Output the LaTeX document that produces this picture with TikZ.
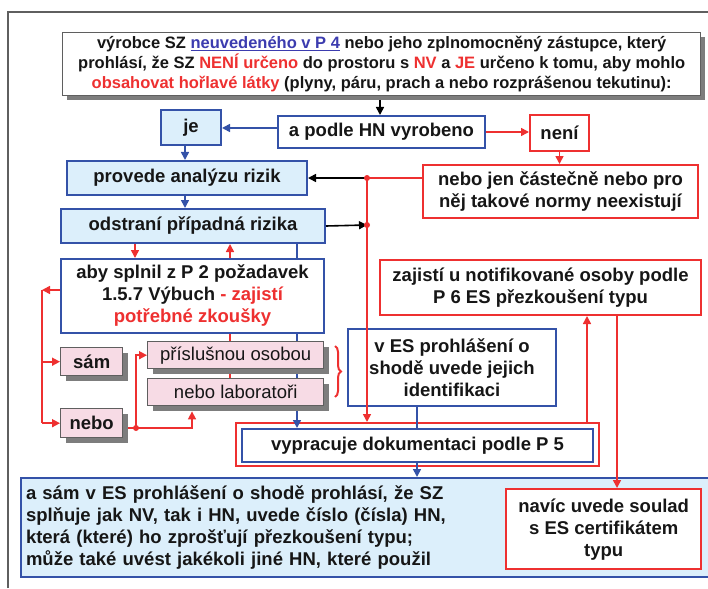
\documentclass[tikz,border=0pt]{standalone}
\usepackage{fontspec}
\setmainfont{Liberation Sans}
\usetikzlibrary{arrows.meta,decorations.pathreplacing,backgrounds}
\definecolor{bl}{RGB}{52,82,168}
\definecolor{lb}{RGB}{220,239,251}
\definecolor{rd}{RGB}{238,48,48}
\definecolor{pk}{RGB}{247,219,229}
\definecolor{gr}{RGB}{95,95,95}
\definecolor{sh}{RGB}{125,125,125}
\definecolor{ul}{RGB}{60,60,175}
\definecolor{tx}{RGB}{22,22,22}
\newcommand{\fA}{\fontsize{18.5}{22}\selectfont}
\newcommand{\fT}{\fontsize{16.5}{20}\selectfont}
\begin{document}
\begin{tikzpicture}[x=1pt,y=-1pt,
  box/.style={draw, line width=2pt, inner sep=1pt, align=center, text=tx, font=\fA\bfseries, anchor=north west},
  bbox/.style={box, draw=bl, fill=lb},
  wbox/.style={box, draw=bl, fill=white},
  rbox/.style={box, draw=rd, fill=white},
  pbox/.style={box, draw=gr, line width=1.4pt, fill=pk},
  shbox/.style={fill=sh, draw=none, inner sep=0pt, anchor=north west},
  tarr/.style={-{Triangle[length=8pt,width=8pt]}},
  rl/.style={rd, line width=1.6pt},
  bll/.style={bl, line width=1.6pt},
  kl/.style={black, line width=1.6pt},
]
\useasboundingbox (0,0) rectangle (708,588);
\coordinate (fa) at (8,588);
\coordinate (fb) at (8,12);
\coordinate (fc) at (708,12);
\draw[gr, line width=1.2pt] (fa) -- (fb) -- (fc);

% shadows
\node[shbox, minimum width=638pt, minimum height=63pt] (topsh) at (67,37) {};
\node[shbox, minimum width=62pt, minimum height=28pt] (samsh) at (66,353) {};
\node[shbox, minimum width=176pt, minimum height=27pt] (prislsh) at (153,347) {};
\node[shbox, minimum width=176pt, minimum height=27pt] (labsh) at (153,384) {};
\node[shbox, minimum width=62pt, minimum height=29pt] (nebosh) at (66,414) {};

\node[box, draw=gr, fill=white, line width=1.4pt, font=\fT\bfseries, minimum width=638pt, minimum height=63pt] (top) at (62,32)
  {výrobce SZ \textcolor{ul}{\underline{neuvedeného v P 4}} nebo jeho zplnomocněný zástupce, který\\
   prohlásí, že SZ \textcolor{rd}{NENÍ určeno} do prostoru s \textcolor{rd}{NV} a \textcolor{rd}{JE} určeno k tomu, aby mohlo\\
   \textcolor{rd}{obsahovat hořlavé látky} (plyny, páru, prach a nebo rozprášenou tekutinu):};

\node[bbox, minimum width=60pt, minimum height=35pt] (je) at (160,109) {je};
\node[wbox, minimum width=207pt, minimum height=32pt] (podle) at (277,115) {a podle HN vyrobeno};
\node[rbox, minimum width=59pt, minimum height=36pt] (neni) at (529,114) {není};
\node[rbox, minimum width=275pt, minimum height=53pt] (nebojen) at (422,164) {nebo jen částečně nebo pro\\něj takové normy neexistují};
\node[bbox, minimum width=240pt, minimum height=34pt] (provede) at (66,160) {provede analýzu rizik};
\node[bbox, minimum width=264pt, minimum height=34pt] (odstrani) at (60,208) {odstraní případná rizika};
\node[wbox, minimum width=263pt, minimum height=74pt] (aby) at (60,258) {aby splnil z P 2 požadavek\\1.5.7 Výbuch \textcolor{rd}{- zajistí}\\\textcolor{rd}{potřebné zkoušky}};
\node[rbox, minimum width=321pt, minimum height=55pt] (zajisti) at (379,259) {zajistí u notifikované osoby podle\\P 6 ES přezkoušení typu};
\node[pbox, minimum width=62pt, minimum height=28pt] (sam) at (60,347) {sám};
\node[pbox, font=\fA, minimum width=176pt, minimum height=27pt] (prisl) at (147,341) {příslušnou osobou};
\node[pbox, font=\fA, minimum width=176pt, minimum height=27pt] (lab) at (147,378) {nebo laboratoři};
\node[wbox, minimum width=208pt, minimum height=77pt] (ves) at (347,328) {v ES prohlášení o\\shodě uvede jejich\\identifikaci};
\node[pbox, minimum width=62pt, minimum height=29pt] (nebo) at (60,408) {nebo};
\node[draw=rd, line width=2.4pt, minimum width=363pt, minimum height=43pt, anchor=north west, inner sep=0pt] (frame) at (235,422) {};
\node[wbox, minimum width=351pt, minimum height=33pt] (vyprac) at (241,428) {vypracuje dokumentaci podle P 5};
\node[bbox, minimum width=688pt, minimum height=99pt, inner xsep=5pt, text width=678pt, align=left] (big) at (20,477)
  {a sám v ES prohlášení o shodě prohlásí, že SZ\\
   splňuje jak NV, tak i HN, uvede číslo (čísla) HN,\\
   která (které) ho zprošťují přezkoušení typu;\\
   může také uvést jakékoli jiné HN, které použil};
\node[rbox, line width=2.4pt, minimum width=195pt, minimum height=80pt] (navic) at (505,488) {navíc uvede soulad\\s ES certifikátem\\typu};

\coordinate (xT) at (380,0);
\coordinate (yJ) at (0,128);
\coordinate (xB) at (185,0);
\coordinate (d1) at (367,178);
\coordinate (d2) at (367,225);
\coordinate (xR1) at (135,0);
\coordinate (xR2) at (230,0);
\coordinate (xB2) at (297,0);
\coordinate (yL) at (0,290);
\coordinate (cL) at (42,290);
\coordinate (d3) at (136,428);
\coordinate (xR3) at (192,0);
\coordinate (xV) at (417,0);
\coordinate (xZ1) at (587,0);
\coordinate (xZ2) at (617,0);

\draw[kl, tarr] (topsh.south -| xT) -- (podle.north -| xT);
\draw[bll, tarr] (podle.west |- yJ) -- (je.east |- yJ);
\draw[rl, tarr] (podle.east) -- (neni.west |- podle.east);
\draw[rl, tarr] (neni.south) -- (neni.south |- nebojen.north);
\draw[bll, tarr] (je.south -| xB) -- (provede.north -| xB);
\draw[bll, tarr] (provede.south -| xB) -- (odstrani.north -| xB);
\draw[rl] (nebojen.west |- d1) -- (d1);
\draw[kl, tarr] (d1) -- (provede.east |- d1);
\draw[kl, tarr] (odstrani.east) -- (d2);
\draw[rl, tarr] (d1) -- (frame.north -| d1);
\fill[rd] (d1) circle (3pt);
\fill[rd] (d2) circle (3pt);
\draw[rl, tarr] (odstrani.south -| xR1) -- (aby.north -| xR1);
\begin{scope}[on background layer]
  \draw[rl, tarr] (lab.north -| xR2) -- (odstrani.south -| xR2);
  \draw[bll] (odstrani.south -| xB2) -- (lab.south -| xB2);
\end{scope}
\draw[bll, tarr] (labsh.south -| xB2) -- (vyprac.north -| xB2);

\draw[rl, tarr] (aby.west |- yL) -- (cL);
\draw[rl] (cL) -- (cL |- nebo.west);
\draw[rl, tarr] (cL |- sam.west) -- (sam.west);
\draw[rl, tarr] (cL |- nebo.west) -- (nebo.west);

\draw[rl] (nebosh.east |- d3) -- (d3);
\draw[rl, tarr] (d3) -- (d3 |- prisl.west) -- (prisl.west);
\draw[rl, tarr] (d3) -- (xR3 |- d3) -- (labsh.south -| xR3);
\fill[rd] (d3) circle (3pt);

\draw[rl, line width=2pt, decorate, decoration={brace, amplitude=6pt}] (335,346) -- (335,397);

\draw[bll] (ves.south -| xV) -- (vyprac.north -| xV);
\draw[bll, tarr] (vyprac.south -| xV) -- (big.north -| xV);
\draw[rl, tarr] (frame.north -| xZ1) -- (zajisti.south -| xZ1);
\draw[rl, tarr] (zajisti.south -| xZ2) -- (navic.north -| xZ2);
\end{tikzpicture}
\end{document}
